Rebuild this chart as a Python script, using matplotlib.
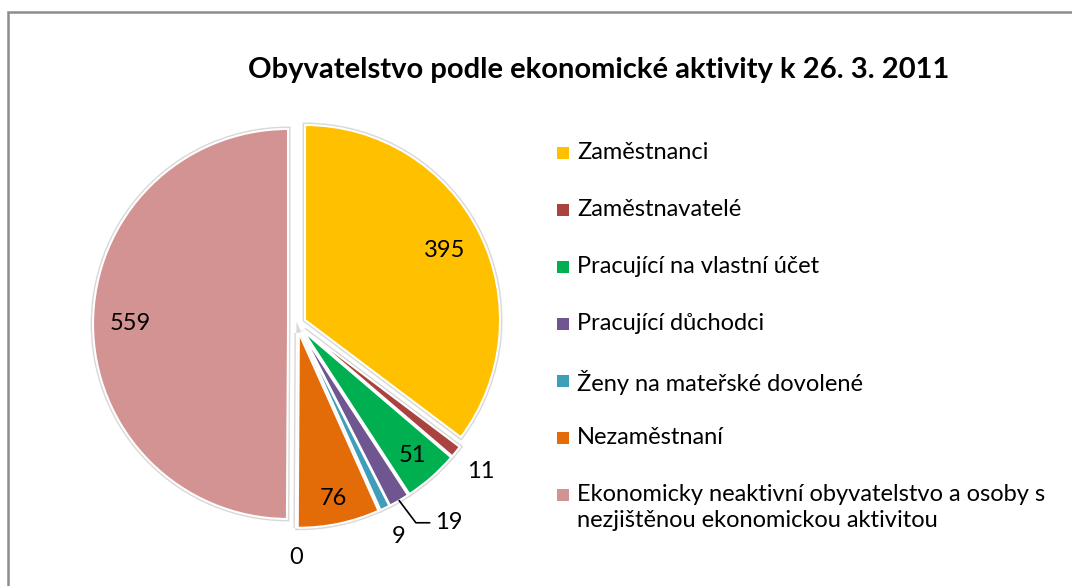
import numpy as np
import matplotlib.pyplot as plt
from matplotlib.patches import Rectangle

plt.rcParams['font.family'] = ['Lato', 'DejaVu Sans']

title = 'Obyvatelstvo podle ekonomické aktivity k 26. 3. 2011'
categories = ['Zaměstnanci', 'Zaměstnavatelé', 'Pracující na vlastní účet',
              'Pracující důchodci', 'Ženy na mateřské dovolené', 'Nezaměstnaní',
              '', 'Ekonomicky neaktivní obyvatelstvo a osoby s\nnezjištěnou ekonomickou aktivitou']
values = [395, 11, 51, 19, 9, 76, 0, 559]
colors = ['#FFC000', '#AA4340', '#00B050', '#6F5690', '#3F9EB8', '#E36C09', '#9BBB59', '#D39392']
# distance of each value label from the slice centre (1 = rim)
label_r = [0.80, 1.16, 0.85, None, 1.16, 0.87, 1.15, 0.81]

W, H = 1072, 586
fig = plt.figure(figsize=(W / 100, H / 100), dpi=100)

# pie centre at (297, 324) px, radius 195 px
R = 195
cx, cy = 297, 324
span = 3.0
ax = fig.add_axes([(cx - span / 2 * R) / W, (H - cy - span / 2 * R) / H,
                   span * R / W, span * R / H])

explode = [0.046] * len(values)
# faint grey halo, then the slices with white edges on top
ax.pie(values, explode=explode, startangle=90, counterclock=False,
       colors=colors, wedgeprops=dict(edgecolor='#d8d8d8', linewidth=3.5))
wedges, _ = ax.pie(values, explode=explode, startangle=90, counterclock=False,
                   colors=colors, wedgeprops=dict(edgecolor='white', linewidth=1.5))
ax.set_xlim(-span / 2, span / 2)
ax.set_ylim(-span / 2, span / 2)
ax.set_aspect('equal')
ax.axis('off')

for w, v, r in zip(wedges, values, label_r):
    mid = np.deg2rad((w.theta1 + w.theta2) / 2)
    x0, y0 = w.center
    if r is None:
        # label moved out with a leader line
        ax.annotate(str(v), xy=(x0 + np.cos(mid), y0 + np.sin(mid)),
                    xytext=(26, -16), textcoords='offset points',
                    ha='left', va='center', fontsize=17,
                    arrowprops=dict(arrowstyle='-', color='black', lw=1.2,
                                    shrinkA=2, shrinkB=0,
                                    connectionstyle='angle,angleA=0,angleB=127,rad=0'))
    else:
        ax.text(x0 + r * np.cos(mid), y0 + r * np.sin(mid), str(v),
                ha='center', va='center', fontsize=17)

fig.text(599 / W, 1 - 70 / H, title, ha='center', va='center',
         fontsize=21, fontweight='bold')

# legend, first line of each entry aligned with its square
leg_y = 152
for name, col in zip(categories, colors):
    if not name:
        continue
    fig.add_artist(Rectangle(((557) / W, 1 - (leg_y + 6.5) / H), 12 / W, 12 / H,
                             transform=fig.transFigure, facecolor=col,
                             edgecolor='none'))
    fig.text(577 / W, 1 - (leg_y - 10) / H, name, ha='left', va='top',
             fontsize=17, linespacing=1.3)
    leg_y += 57

# chart area border (only top and left visible in the crop)
fig.add_artist(Rectangle((8 / W, -0.1), 1.2, 1.1 - 12 / H, transform=fig.transFigure,
                         fill=False, edgecolor='#8c8c8c', linewidth=1.8))

fig.savefig('out.png', dpi=100)
